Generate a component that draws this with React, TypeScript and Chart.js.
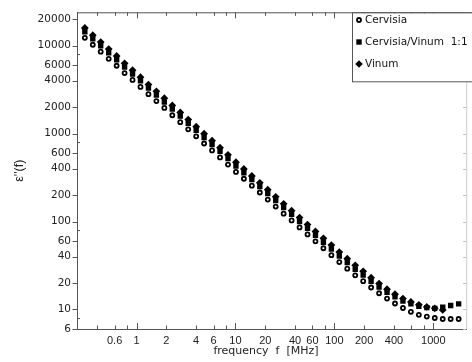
import React, { useEffect, useRef } from "react";
import { Chart, registerables } from "chart.js";

Chart.register(...registerables);

// frequency f [MHz]
const frequencyMHz = [
  0.3, 0.361, 0.434, 0.523, 0.629, 0.757, 0.911, 1.096, 1.319, 1.587, 1.91, 2.298,
  2.766, 3.329, 4.006, 4.819, 5.8, 6.98, 8.4, 10.11, 12.16, 14.64, 17.62, 21.2,
  25.51, 30.69, 36.94, 44.45, 53.49, 64.37, 77.45, 93.2, 112.1, 134.9, 162.4, 195.4,
  235.1, 283.0, 340.5, 409.8, 493.2, 593.4, 714.1, 859.4, 1034, 1245, 1498, 1803,
];

const cervisia = [
  12300, 10260, 8560, 7090, 5920, 4890, 4080, 3400, 2810, 2350, 1960, 1620,
  1350, 1120, 933, 773, 644, 537, 445, 367, 307, 256, 214, 178,
  148, 123, 103, 85.7, 71.5, 59.6, 49.7, 41.5, 34.6, 29.1, 24.5, 21.0,
  17.8, 15.3, 13.3, 11.7, 10.4, 9.4, 8.7, 8.3, 8.0, 7.8, 7.8, 7.8,
];

const cervisiaVinum = [
  14400, 12000, 10000, 8300, 6930, 5720, 4770, 3980, 3290, 2750, 2290, 1900,
  1580, 1310, 1090, 904, 753, 628, 521, 429, 359, 300, 250, 208,
  173, 144, 121, 100, 83.7, 69.8, 58.2, 48.6, 40.5, 34.1, 28.7, 24.6,
  20.9, 18.0, 15.7, 13.9, 12.5, 11.6, 10.9, 10.5, 10.3, 10.6, 11.1, 11.6,
];

const vinum = [
  15900, 13200, 11000, 9150, 7640, 6310, 5260, 4390, 3620, 3030, 2530, 2090,
  1740, 1445, 1200, 997, 831, 693, 574, 473, 396, 330, 276, 230,
  191, 159, 133, 111, 92.5, 77.2, 64.5, 54.0, 45.0, 37.8, 31.8, 27.2,
  23.0, 19.7, 17.0, 14.9, 13.3, 12.2, 11.3, 10.7, 10.3, 9.9, null, null,
];

const xTickLabels = [0.6, 1, 2, 4, 6, 10, 20, 40, 60, 100, 200, 400, 1000];
const xMinorTicks = [0.4, 0.8, 8, 80, 600, 800];
const xDecadeTicks = [1, 10, 100, 1000];
const yTickLabels = [6, 10, 20, 40, 60, 100, 200, 400, 600, 1000, 2000, 4000, 6000, 10000, 20000];
const yMinorTicks = [8, 80, 800, 8000];

const seriesNames = ["Cervisia", "Cervisia/Vinum  1:1", "Vinum"];

const AXIS = "#555";
const TXT = "#222";

function drawMarker(ctx: CanvasRenderingContext2D, kind: number, x: number, y: number) {
  ctx.save();
  ctx.fillStyle = "#000";
  ctx.strokeStyle = "#000";
  if (kind === 0) {
    ctx.beginPath();
    ctx.arc(x, y, 2.0, 0, Math.PI * 2);
    ctx.lineWidth = 1.8;
    ctx.fillStyle = "#fff";
    ctx.fill();
    ctx.stroke();
  } else if (kind === 1) {
    ctx.fillRect(x - 2.7, y - 2.7, 5.4, 5.4);
  } else {
    ctx.beginPath();
    ctx.moveTo(x, y - 3.8);
    ctx.lineTo(x + 3.8, y);
    ctx.lineTo(x, y + 3.8);
    ctx.lineTo(x - 3.8, y);
    ctx.closePath();
    ctx.fill();
  }
  ctx.restore();
}

const framePlugin = {
  id: "frame",
  afterDraw(chart: any) {
    const ctx: CanvasRenderingContext2D = chart.ctx;
    const xs = chart.scales.x;
    const ys = chart.scales.y;
    const { left, right, top, bottom } = chart.chartArea;
    ctx.save();
    ctx.lineWidth = 1;
    // top border
    ctx.strokeStyle = AXIS;
    ctx.beginPath();
    ctx.moveTo(left, top + 0.5);
    ctx.lineTo(chart.width, top + 0.5);
    ctx.stroke();
    // right border (faint)
    ctx.strokeStyle = "#ccc";
    ctx.beginPath();
    ctx.moveTo(right + 0.5, top);
    ctx.lineTo(right + 0.5, bottom);
    ctx.stroke();
    ctx.strokeStyle = AXIS;
    // x ticks (inward, bottom and top)
    const xAll = [...xTickLabels, ...xMinorTicks];
    xAll.forEach((v) => {
      const px = Math.round(xs.getPixelForValue(v)) + 0.5;
      const len = xDecadeTicks.includes(v) ? 6 : 3.5;
      ctx.beginPath();
      ctx.moveTo(px, bottom);
      ctx.lineTo(px, bottom - len);
      ctx.moveTo(px, top);
      ctx.lineTo(px, top + len);
      ctx.stroke();
    });
    // y ticks
    yTickLabels.forEach((v) => {
      const py = Math.round(ys.getPixelForValue(v)) + 0.5;
      ctx.beginPath();
      ctx.moveTo(left, py);
      ctx.lineTo(left - 4.5, py);
      ctx.stroke();
      ctx.strokeStyle = "#bbb";
      ctx.beginPath();
      ctx.moveTo(right, py);
      ctx.lineTo(right - 3, py);
      ctx.stroke();
      ctx.strokeStyle = AXIS;
    });
    yMinorTicks.forEach((v) => {
      const py = Math.round(ys.getPixelForValue(v)) + 0.5;
      ctx.beginPath();
      ctx.moveTo(left, py);
      ctx.lineTo(left + 3, py);
      ctx.stroke();
    });
    // legend box
    ctx.fillStyle = "#fff";
    ctx.fillRect(352, top + 1, chart.width, 69);
    ctx.strokeStyle = AXIS;
    ctx.strokeRect(352.5, top + 0.5, chart.width, 69);
    ctx.font = "10.5px 'DejaVu Sans'";
    ctx.fillStyle = "#111";
    ctx.textBaseline = "middle";
    ctx.textAlign = "left";
    seriesNames.forEach((name, i) => {
      const cy = 20 + i * 22;
      drawMarker(ctx, i, 359, cy);
      ctx.fillText(name, 365, cy);
    });
    // axis titles
    ctx.fillStyle = TXT;
    ctx.font = "11px 'DejaVu Sans'";
    ctx.textAlign = "center";
    ctx.fillText("frequency  f  [MHz]", 266, 351);
    ctx.translate(20, (top + bottom) / 2);
    ctx.rotate(-Math.PI / 2);
    ctx.font = "12.5px 'Liberation Sans'";
    ctx.fillText("\u03B5''(f)", 0, 0);
    ctx.restore();
  },
};

export default function App() {
  const ref = useRef<HTMLCanvasElement | null>(null);
  useEffect(() => {
    if (!ref.current) return;
    const pts = (ys: (number | null)[]) =>
      frequencyMHz.map((f, i) => ({ x: f, y: ys[i] })).filter((p) => p.y !== null);
    const chart = new Chart(ref.current, {
      type: "scatter",
      data: {
        datasets: [
          {
            label: seriesNames[0],
            data: pts(cervisia),
            pointStyle: "circle",
            pointRadius: 2.0,
            pointBorderWidth: 1.8,
            pointBackgroundColor: "#fff",
            pointBorderColor: "#000",
            order: 0,
          },
          {
            label: seriesNames[1],
            data: pts(cervisiaVinum),
            pointStyle: "rect",
            pointRadius: 3.8,
            pointBorderWidth: 0,
            pointBackgroundColor: "#000",
            pointBorderColor: "#000",
            order: 1,
          },
          {
            label: seriesNames[2],
            data: pts(vinum),
            pointStyle: "rectRot",
            pointRadius: 3.9,
            pointBorderWidth: 0,
            pointBackgroundColor: "#000",
            pointBorderColor: "#000",
            order: 2,
          },
        ],
      },
      options: {
        animation: false,
        responsive: false,
        events: [],
        layout: { padding: { left: 0, right: 2, top: 8, bottom: 0 } },
        plugins: { legend: { display: false }, tooltip: { enabled: false } },
        scales: {
          x: {
            type: "logarithmic",
            min: 0.25,
            max: 2150,
            grid: { display: false, drawTicks: false },
            border: { display: true, color: AXIS, width: 1 },
            afterFit: (s: any) => {
              s.height = 33;
            },
            afterBuildTicks: (s: any) => {
              s.ticks = xTickLabels.map((v) => ({ value: v }));
            },
            ticks: {
              autoSkip: false,
              maxRotation: 0,
              padding: 5,
              color: TXT,
              font: { family: "'Liberation Sans'", size: 11 },
              callback: (v: any) => String(v),
            },
          },
          y: {
            type: "logarithmic",
            min: 6,
            max: 24000,
            grid: { display: false, drawTicks: false },
            border: { display: true, color: AXIS, width: 1 },
            afterFit: (s: any) => {
              s.width = 77;
            },
            afterBuildTicks: (s: any) => {
              s.ticks = yTickLabels.map((v) => ({ value: v }));
            },
            ticks: {
              autoSkip: false,
              padding: 6,
              color: TXT,
              font: { family: "'DejaVu Sans'", size: 10.5 },
              callback: (v: any) => String(v),
            },
          },
        },
      },
      plugins: [framePlugin],
    });
    return () => chart.destroy();
  }, []);
  return (
    <div style={{ position: "fixed", left: 0, top: 0, width: 472, height: 362, background: "#fff" }}>
      <canvas ref={ref} width={472} height={362} style={{ width: 472, height: 362, display: "block" }} />
    </div>
  );
}
